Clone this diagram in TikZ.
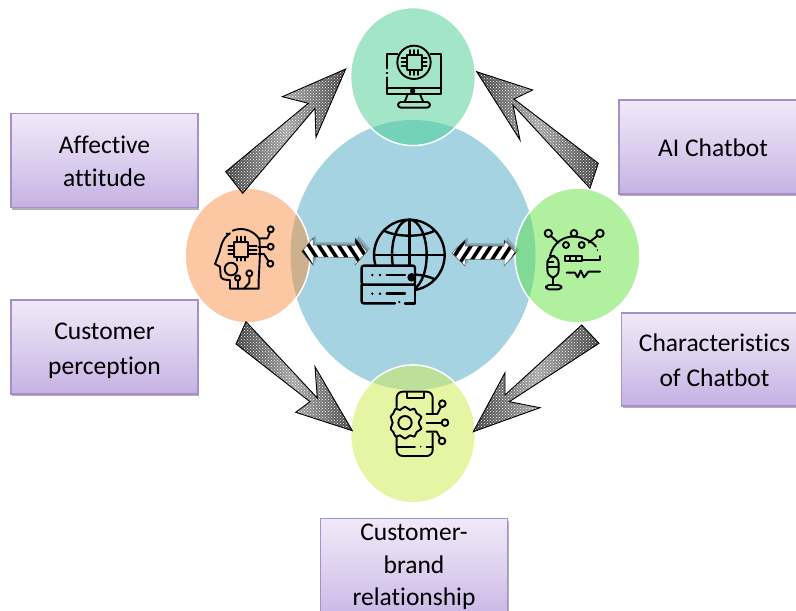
\documentclass[tikz,border=0pt]{standalone}
\usepackage{fontspec}
\setmainfont[Ligatures=CommonOff]{Carlito}
\usetikzlibrary{shapes.geometric,patterns,shadows,calc}
\definecolor{cCentral}{HTML}{A5D3E2}
\definecolor{cTop}{HTML}{A3E6C7}
\definecolor{cLeft}{HTML}{FBC8A3}
\definecolor{cRight}{HTML}{B0F09F}
\definecolor{cBottom}{HTML}{E6F5A3}
\definecolor{oTop}{HTML}{74D2B8}
\definecolor{oLeft}{HTML}{CDB18F}
\definecolor{oRight}{HTML}{80D994}
\definecolor{oBottom}{HTML}{BCE09A}
\definecolor{boxTop}{HTML}{F0E9F8}
\definecolor{boxMid}{HTML}{DCCFEE}
\definecolor{boxBot}{HTML}{C5B1E3}
\definecolor{boxEdge}{HTML}{A690C8}
\tikzset{
  bubble/.style={ellipse,draw=white,line width=1.6pt,inner sep=0pt},
  labelbox/.style={draw=boxEdge,line width=1.2pt,top color=boxTop,bottom color=boxBot,middle color=boxMid,
    drop shadow={shadow xshift=1pt,shadow yshift=-2pt,fill=black,opacity=.3},
    minimum width=187pt,inner sep=0pt},
  labeltext/.style={align=center,inner sep=0pt,text=black,font=\fontsize{25.5}{#1}\selectfont},
  labeltext/.default=34,
  icon/.style={line width=1.9pt,black,line cap=round,line join=round},
  bigarrow/.style={draw=black,line width=.9pt,line join=miter},
}
% big speckled arrow: #1 = closed polygon
\newcommand{\speckle}[1]{%
  \path[left color=black!75,right color=black!75,middle color=black!35] #1;
  \path[pattern=crosshatch dots,pattern color=white] #1;
  \draw[bigarrow] #1;}
% striped double arrow: #1 = polygon, #2 = left x, #3 = stripe lean
\newcommand{\stripe}[3]{%
  \fill[black,opacity=.16,shift={(3pt,3pt)}] #1;
  \fill[black,opacity=.16,shift={(1.5pt,1.5pt)}] #1;
  \fill[white] #1;
  \begin{scope}
    \clip #1;
    \foreach \sx in {0,10,...,100}
      \draw[black,line width=3.6pt] ($(#2,232)+(\sx,0)$) -- ++(#3,40);
  \end{scope}
  \draw[black!65,line width=.5pt] #1;}
\begin{document}
\begin{tikzpicture}[x=1pt,y=-1pt]
\useasboundingbox (0,0) rectangle (796,611);
\clip (0,0) rectangle (796,611);
\fill[white] (0,0) rectangle (796,611);

% label boxes
\node[labelbox,minimum height=94pt] (affective) at (104.5,160.5) {};
\node[labeltext=33] (affectiveT) at (104.5,161.5) {Affective\\attitude};
\node[labelbox,minimum height=94pt] (perception) at (104.5,347) {};
\node[labeltext=34.5] (perceptionT) at (104.5,351) {Customer\\perception};
\node[labelbox,minimum height=94pt] (aichat) at (712.5,147) {};
\node[labeltext] (aichatT) at (713,148) {AI Chatbot};
\node[labelbox,minimum height=93pt] (charact) at (715,359.5) {};
\node[labeltext=35] (charactT) at (714.5,360.5) {Characteristics\\of Chatbot};
\node[labelbox,minimum height=110pt,anchor=north] (brand) at (414,518) {};
\node[labeltext=32.5] (brandT) at (414,567) {Customer-\\brand\\relationship};

% circles
\node[ellipse,fill=cCentral,minimum width=245pt,minimum height=270pt,inner sep=0pt] (hub) at (413,255) {};
\node[bubble,fill=cTop,minimum width=125pt,minimum height=138pt] (top) at (413,76.5) {};
\node[bubble,fill=cLeft,minimum width=125pt,minimum height=135pt] (left) at (247.5,255.5) {};
\node[bubble,fill=cRight,minimum width=125pt,minimum height=135pt] (right) at (577.5,255.5) {};
\node[bubble,fill=cBottom,minimum width=125pt,minimum height=138pt] (bottom) at (413,434) {};
\begin{scope}
  \clip (413,255) ellipse [x radius=122.5pt,y radius=135pt];
  \fill[oTop] (413,76.5) ellipse [x radius=61.7pt,y radius=68.2pt];
  \fill[oLeft] (247.5,255.5) ellipse [x radius=61.7pt,y radius=66.7pt];
  \fill[oRight] (577.5,255.5) ellipse [x radius=61.7pt,y radius=66.7pt];
  \fill[oBottom] (413,434) ellipse [x radius=61.7pt,y radius=68.2pt];
\end{scope}

% big arrows
\speckle{(225.7,171.7) -- (308.3,103.3) -- (282.3,96.7) -- (345.7,69) -- (316,137.3) -- (315,108.3) -- (242.7,193.3) -- cycle}
\speckle{(590,188.3) -- (513,105) -- (520,140) -- (476.7,71.7) -- (532.7,90) -- (514,99) -- (598.3,163.3) -- cycle}
\speckle{(246,321.7) -- (317.3,398) -- (315,366.7) -- (352.3,430.7) -- (295.7,412.3) -- (310,401.7) -- (236,344) -- cycle}
\speckle{(581.7,325) -- (505,395) -- (505,372.7) -- (473.3,431.7) -- (540,407.7) -- (509.3,401.7) -- (599,343.3) -- cycle}

% striped double arrows
\stripe{(301.7,251.5) -- (313,238) -- (313,245) -- (355,245.5) -- (355,238) -- (367,251.5) -- (355,265) -- (355,257.5) -- (313,257) -- (313,265) -- cycle}{270}{26}
\stripe{(451.7,253) -- (465,240) -- (465,246) -- (504,246) -- (504,240) -- (516,253) -- (504,266) -- (504,259.5) -- (465,259.5) -- (465,266) -- cycle}{450}{-26}

% head icon
\begin{scope}[shift={(180,170)},scale=1/3,icon]
  \draw (150,190) .. controls (125,205) and (122,235) .. (118,248) -- (105,282) -- (120,290) -- (122,318) .. controls (123,328) and (135,330) .. (150,330) -- (150,356) -- (236,356) -- (236,330);
  \draw (140,192) -- (142,190);
  \draw (158,182) .. controls (190,168) and (225,185) .. (238,208) .. controls (242,240) and (238,290) .. (236,330);
  \draw (163,217) rectangle (205,262);
  \foreach \p in {172,184,196} {\draw (\p,200) -- (\p,217); \draw (\p,262) -- (\p,272);}
  \foreach \p in {228,240,252} {\draw (145,\p) -- (163,\p); \draw (205,\p) -- (230,\p);}
  \draw (153,297) circle (19);
  \draw (272,178) circle (9); \draw (272,230) circle (9); \draw (271,281) circle (9);
  \draw (240,205) -- (262,205) -- (270,187);
  \draw (236,230) -- (263,230);
  \draw (236,252) -- (252,252) -- (265,273);
  \draw (173,324) circle (8); \draw (173,332) -- (173,356);
  \draw (208,310) circle (9); \draw (208,319) -- (208,338) -- (192,356);
\end{scope}

% monitor icon
\begin{scope}[shift={(340,0)},scale=1/3,icon]
  \draw (172,163) -- (140,163) -- (140,205);
  \draw (140,218) -- (142,218);
  \draw (140,232) -- (140,282) -- (302,282) -- (302,163) -- (272,163);
  \draw (140,263) -- (302,263);
  \draw (222,187) circle (50);
  \draw (200,165) rectangle (245,210);
  \foreach \p in {210,222,234} {\draw (\p,150) -- (\p,165); \draw (\p,210) -- (\p,225);}
  \foreach \p in {175,187,199} {\draw (185,\p) -- (200,\p); \draw (245,\p) -- (260,\p);}
  \fill (218,273) circle (8);
  \draw (203,283) -- (194,306); \draw (240,283) -- (250,306);
  \draw[rounded corners=3pt] (174,306) rectangle (270,323);
\end{scope}

% robot icon
\begin{scope}[shift={(350,200)},scale=1/3,icon]
  \draw (600,168) .. controls (610,125) and (645,108) .. (672,110) .. controls (700,110) and (728,125) .. (738,140);
  \draw (595,100) circle (11); \draw (672,100) circle (10); \draw (750,100) circle (11);
  \draw (603,108) -- (625,128);
  \draw (742,108) -- (716,128);
  \draw (648,135) circle (9); \draw (695,135) circle (9);
  \draw (645,168) rectangle (695,182);
  \draw (661,168) -- (661,182); \draw (678,168) -- (678,182);
  \draw (695,180) -- (750,180) -- (750,168);
  \fill (742,150) circle (2.5);
  \draw[rounded corners=7pt] (592,168) rectangle (626,232);
  \draw (592,185) -- (610,185); \draw (592,200) -- (626,200);
  \draw (609,232) -- (609,255);
  \draw[rounded corners=3pt] (588,255) rectangle (634,268);
  \draw (650,218) -- (675,218) -- (683,232) -- (692,212) -- (702,232) -- (715,215) -- (750,215);
\end{scope}

% globe and server icon
\begin{scope}[shift={(350,200)},scale=1/3]
  \begin{scope}[icon,line width=2.4pt]
    \draw (178,165) circle (106);
    \draw (178,165) ellipse [x radius=52pt,y radius=106pt];
    \draw (178,59) -- (178,271);
    \draw (72,165) -- (284,165);
    \draw (102,92) .. controls (140,112) and (216,112) .. (254,92);
    \draw (102,238) .. controls (140,218) and (216,218) .. (254,238);
  \end{scope}
  \fill[cCentral] (33,195) rectangle (197,312);
  \begin{scope}[icon,line width=2.4pt]
    \draw[rounded corners=2pt] (35,197) rectangle (195,254);
    \draw[rounded corners=2pt] (35,254) -- (35,310) -- (135,310);
    \draw (165,310) -- (195,310) -- (195,254);
    \draw (110,225) -- (165,225);
    \draw (110,281) -- (165,281);
    \fill (67,225) circle (4); \fill (90,225) circle (4);
    \fill (67,281) circle (4); \fill (90,281) circle (4);
    \fill (148,306) circle (3.5);
    \fill (185,232) circle (13);
  \end{scope}
\end{scope}

% phone icon
\begin{scope}[shift={(230,320)},scale=1/3,icon]
  \draw[rounded corners=6pt] (500,262) -- (500,215) -- (608,215) -- (608,280);
  \draw[rounded corners=6pt] (500,350) -- (500,408) -- (608,408) -- (608,340);
  \draw (530,218) -- (530,235) -- (582,235) -- (582,218);
  \draw (500,380) -- (555,380);
  \fill (572,380) circle (2.5);
  \draw (590,380) -- (608,380);
  \fill[cBottom] (525,308) circle (38);
  \draw (525,308) circle (20);
  \draw plot[smooth cycle,tension=.5] coordinates {
    (525,260) (540,270) (553,266) (560,280) (574,290) (566,308) (574,326) (560,336) (553,350) (540,346) (525,356) (510,346) (497,350) (490,336) (482,326) (488,308) (482,290) (490,280) (497,266) (510,270)};
  \draw (590,282) -- (622,282) -- (632,262);
  \draw (637,251) circle (10);
  \draw (590,308) -- (635,308);
  \draw (645,308) circle (10);
  \draw (590,335) -- (620,335) -- (630,354);
  \draw (636,363) circle (10);
\end{scope}
\end{tikzpicture}
\end{document}
